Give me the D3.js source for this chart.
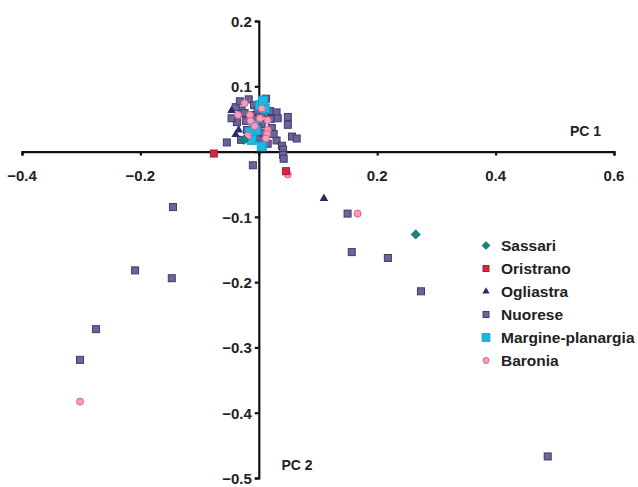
<!DOCTYPE html>
<html>
<head>
<meta charset="utf-8">
<script src="https://cdn.jsdelivr.net/npm/d3@7/dist/d3.min.js"></script>
<style>
  body { margin:0; background:#fff; }
  svg text { font-family: "Liberation Sans", Arial, sans-serif; font-weight:bold; fill:#222; }
</style>
</head>
<body>
<div id="chart"></div>
<script>
// PCA scores, [PC1, PC2]
var sassari = [[-0.025,0.018],[0.265,-0.127]];
var oristrano = [[-0.076,-0.003],[0.046,-0.030]];
var ogliastra = [[-0.046,0.063],[-0.034,0.033],[-0.039,0.026],[0.110,-0.072]];
var nuorese = [[-0.017,0.080],[0.012,0.081],[-0.029,0.063],[-0.024,0.059],[-0.008,0.071],[0.019,0.062],
  [0.030,0.060],[0.032,0.051],[0.020,0.050],[-0.037,0.045],[-0.022,0.047],[-0.010,0.056],[0.049,0.053],
  [0.049,0.041],[0.056,0.023],[0.064,0.020],[-0.005,0.050],[0.005,0.042],[-0.002,0.036],[-0.030,0.018],
  [0.002,0.021],[-0.054,0.014],[0.030,0.017],[0.039,0.009],[0.041,0.003],[0.041,-0.005],[0.042,-0.011],
  [-0.010,-0.021],[-0.046,0.051],[-0.020,0.033],[0.010,0.059],[0.022,0.036],[-0.039,0.068],[0.007,0.029],
  [-0.015,0.020],[0.015,0.012],[-0.032,0.077],[-0.002,0.063],[0.025,0.027],
  [-0.145,-0.085],[-0.209,-0.182],[-0.147,-0.194],[-0.275,-0.272],[-0.302,-0.319],
  [0.150,-0.095],[0.157,-0.154],[0.218,-0.163],[0.274,-0.214],[0.488,-0.467]];
var margine = [[0.002,0.071],[0.010,0.066],[-0.008,0.041],[-0.005,0.033],[-0.015,0.030],[0.005,0.008],
  [0.007,0.078],[-0.012,0.018]];
var baronia = [[-0.035,0.056],[-0.015,0.056],[0.002,0.051],[0.015,0.048],[-0.014,0.047],[-0.019,0.024],
  [0.015,0.033],[0.014,0.027],[0.012,0.020],[-0.024,0.074],[0.005,0.066],[-0.007,0.039],[0.049,-0.035],
  [0.167,-0.095],[-0.302,-0.383]];

var xTicks = [-0.4,-0.2,0.2,0.4,0.6];
var yTicks = [0.2,0.1,-0.1,-0.2,-0.3,-0.4,-0.5];
var groupNames = ["Sassari","Oristrano","Ogliastra","Nuorese","Margine-planargia","Baronia"];

var W = 638, H = 487;
var svg = d3.select("#chart").append("svg").attr("width",W).attr("height",H);

var x = d3.scaleLinear().domain([-0.4,0.6]).range([22,614]);
var y = d3.scaleLinear().domain([0.2,-0.5]).range([21,478]);

// axes cross at 0,0
var xAxis = d3.axisBottom(x).tickValues([-0.4,-0.2,0,0.2,0.4,0.6]).tickSize(4).tickFormat("");
var gx = svg.append("g").attr("transform","translate(0,"+y(0)+")").call(xAxis);
var yAxis = d3.axisLeft(y).tickValues([0.2,0.1,0,-0.1,-0.2,-0.3,-0.4,-0.5]).tickSize(4).tickFormat("");
var gy = svg.append("g").attr("transform","translate("+x(0)+",0)").call(yAxis);
[gx,gy].forEach(function(g){
  g.select(".domain").attr("stroke","#111").attr("stroke-width",2.2);
  g.selectAll(".tick line").attr("stroke","#111").attr("stroke-width",2.2);
});

svg.selectAll("text.xl").data(xTicks).enter().append("text")
  .attr("x",function(d){return x(d);}).attr("y",y(0)+29)
  .attr("text-anchor","middle").style("font-size","15px")
  .text(function(d){return d3.format(".1f")(d);});
svg.selectAll("text.yl").data(yTicks).enter().append("text")
  .attr("x",x(0)-7).attr("y",function(d){return y(d)+6;})
  .attr("text-anchor","end").style("font-size","15px")
  .text(function(d){return d3.format(".1f")(d);});

svg.append("text").attr("x",601).attr("y",136).attr("text-anchor","end")
  .style("font-size","14px").text("PC 1");
svg.append("text").attr("x",297).attr("y",470).attr("text-anchor","middle")
  .style("font-size","14px").text("PC 2");

// marker drawers, k scales the marker (legend uses smaller ones)
function drawSquare(g, s, fill, stroke){
  g.append("rect").attr("x",-s/2).attr("y",-s/2).attr("width",s).attr("height",s)
    .attr("fill",fill).attr("stroke",stroke).attr("stroke-width",1);
}
var styles = {
  "Sassari": function(g,k){ var s=6.4*k; g.append("rect").attr("x",-s/2).attr("y",-s/2).attr("width",s).attr("height",s)
    .attr("transform","rotate(45)").attr("fill","#128585").attr("stroke","#0b6060").attr("stroke-width",0.8); },
  "Oristrano": function(g,k){ drawSquare(g,7*k,"#d8283e","#a81c2c"); },
  "Ogliastra": function(g,k){ g.append("path").attr("d",d3.symbol(d3.symbolTriangle,32*k*k)()).attr("fill","#2a2a6a"); },
  "Nuorese": function(g,k){ drawSquare(g,7*k,"#6b6698","#3e3a70"); },
  "Margine-planargia": function(g,k){ drawSquare(g,9*k,"#1ab8e3","#14a0cc"); },
  "Baronia": function(g,k){ g.append("circle").attr("r",3.5*k).attr("fill","#f3a0bd").attr("stroke","#e4608a").attr("stroke-width",1); }
};
var groups = {"Sassari":sassari,"Oristrano":oristrano,"Ogliastra":ogliastra,"Nuorese":nuorese,
  "Margine-planargia":margine,"Baronia":baronia};

// draw order: nuorese beneath, others above
["Nuorese","Ogliastra","Margine-planargia","Baronia","Oristrano","Sassari"].forEach(function(name){
  svg.append("g").selectAll("g").data(groups[name]).enter().append("g")
    .attr("transform",function(d){return "translate("+x(d[0])+","+y(d[1])+")";})
    .each(function(){ styles[name](d3.select(this),1); });
});

// legend
var lg = svg.append("g").attr("transform","translate(486,245.5)");
groupNames.forEach(function(name,i){
  var row = lg.append("g").attr("transform","translate(0,"+(i*23)+")");
  var m = row.append("g");
  styles[name](m,0.85);
  row.append("text").attr("x",15).attr("y",5.5).style("font-size","15.5px").text(name);
});
</script>
</body>
</html>
